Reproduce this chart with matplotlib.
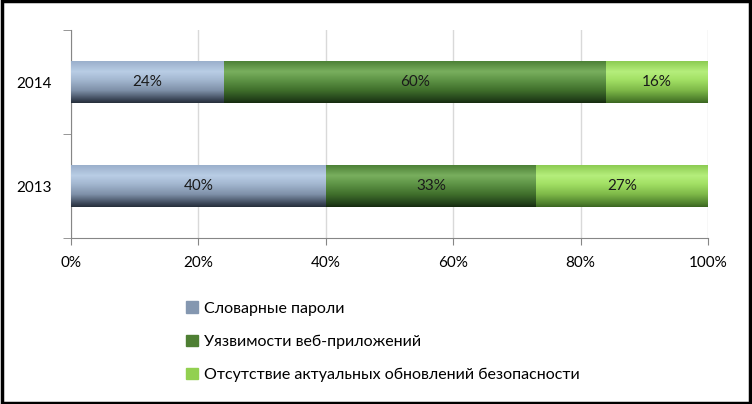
import matplotlib
matplotlib.use("Agg")
import matplotlib.pyplot as plt
import numpy as np
from matplotlib.colors import LinearSegmentedColormap
from matplotlib.patches import Rectangle

plt.rcParams['font.family'] = ['Lato', 'DejaVu Sans']

years = ['2013', '2014']
series_names = ['Словарные пароли', 'Уязвимости веб-приложений',
                'Отсутствие актуальных обновлений безопасности']
dict_pw = [40, 24]
web_vuln = [33, 60]
no_updates = [27, 16]
series = [dict_pw, web_vuln, no_updates]
xticks = [0, 20, 40, 60, 80, 100]

legend_colors = ['#8497B0', '#4E7F33', '#92D050']
grad_stops = [
    ['#9AAFCB', '#B9CDE5', '#A3B7D0', '#7E90A8', '#3A4556', '#262E3A'],
    ['#4C8036', '#79AF5E', '#5E9446', '#3F6E2B', '#22401A', '#15290E'],
    ['#8CCB52', '#B5EE7C', '#A2E064', '#7DB848', '#4E7F2C', '#3A6420'],
]

fig = plt.figure(figsize=(7.52, 4.04), dpi=100)
ax = fig.add_axes([71/752, 1-238/404, 637/752, 208/404])

y = np.arange(len(years))
left = np.zeros(len(years))
grad = np.linspace(0, 1, 256).reshape(-1, 1)
for vals, lc, stops in zip(series, legend_colors, grad_stops):
    bars = ax.barh(y, vals, left=left, height=0.4, color=lc, edgecolor='none', zorder=2)
    cmap = LinearSegmentedColormap.from_list('g', list(zip([0, 0.25, 0.45, 0.7, 0.92, 1.0], stops)))
    for b, v in zip(bars, vals):
        x0, y0, w, h = b.get_x(), b.get_y(), b.get_width(), b.get_height()
        im = ax.imshow(grad, cmap=cmap, aspect='auto', origin='upper',
                       extent=[x0, x0 + w, y0, y0 + h], zorder=3)
        im.set_clip_path(b)
        ax.text(x0 + w / 2, y0 + h / 2, f'{v}%', ha='center', va='center',
                fontsize=11, color='#1a1a1a', zorder=4)
    left = left + np.array(vals)

ax.set_xlim(0, 100)
ax.set_ylim(-0.5, 1.5)
ax.set_xticks(xticks)
ax.set_xticklabels([f'{t}%' for t in xticks], fontsize=11)
ax.set_yticks(y)
ax.set_yticklabels(years, fontsize=11)
ax.set_yticks([-0.5, 0.5, 1.5], minor=True)
ax.tick_params(axis='y', which='major', length=0, pad=14)
ax.tick_params(axis='y', which='minor', length=6, color='#868686', direction='out')
ax.tick_params(axis='x', length=5, color='#868686', direction='out', pad=8)
ax.xaxis.grid(True, color='#D9D9D9', linewidth=1, zorder=0)
ax.set_axisbelow(True)
for s in ['top', 'right']:
    ax.spines[s].set_visible(False)
ax.spines['left'].set_color('#868686')
ax.spines['bottom'].set_color('#868686')

handles = [Rectangle((0, 0), 1, 1, color=c) for c in legend_colors]
fig.legend(handles, series_names, loc='upper left', bbox_to_anchor=(172/752, 1-287/404),
           frameon=False, fontsize=11.5, labelspacing=1.2, handlelength=0.7,
           handleheight=0.7, handletextpad=0.4)

fig.add_artist(Rectangle((0.002, 0.003), 0.995, 0.994, transform=fig.transFigure,
                         fill=False, edgecolor='black', linewidth=2.5))

fig.savefig('out.png', dpi=100)
